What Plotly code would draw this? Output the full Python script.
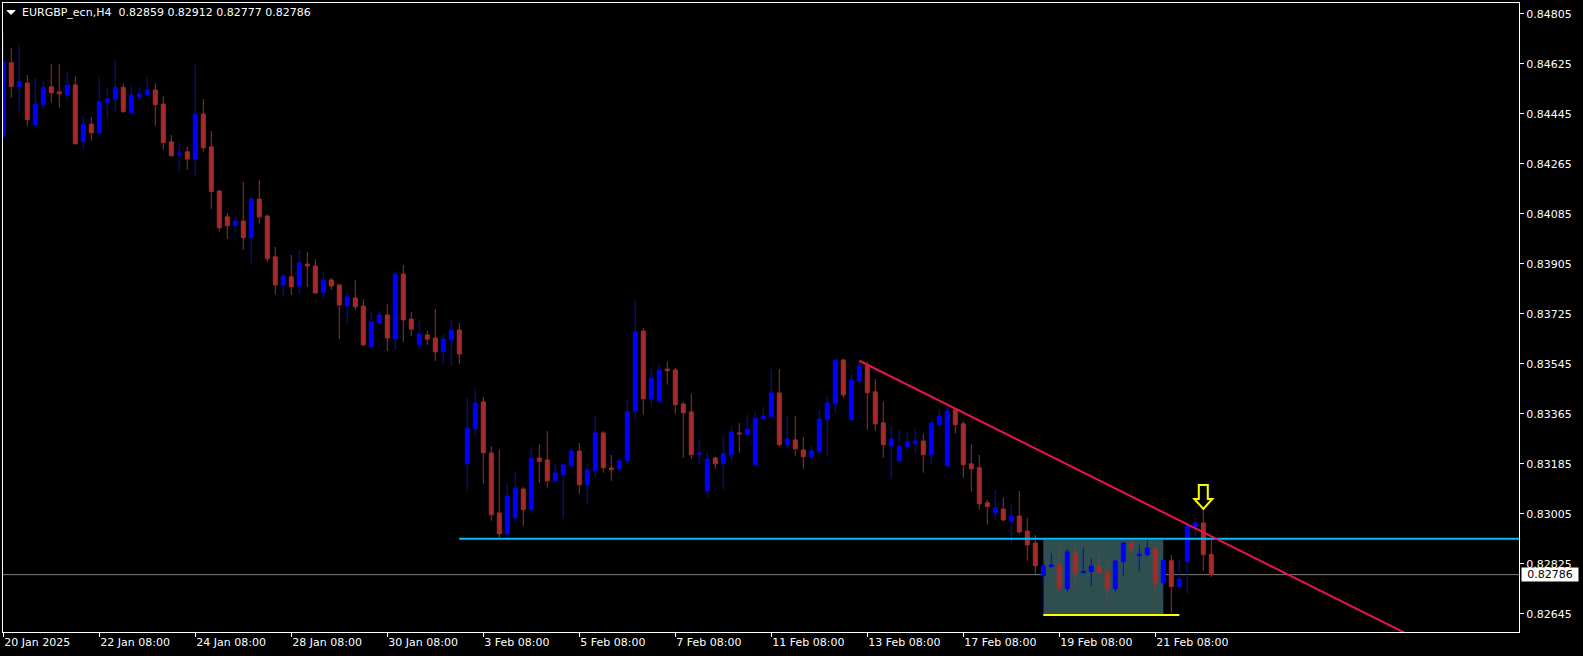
import plotly.graph_objects as go

# ---------------- data ----------------
symbol = "EURGBP_ecn,H4"
bars = list(range(152))

opens = [0.84365, 0.84629, 0.84543, 0.84556, 0.84406, 0.84478, 0.84542, 0.84524, 0.84513, 0.84549,
         0.84345, 0.84408, 0.84377, 0.84485, 0.84497, 0.84540, 0.84449, 0.84507, 0.84513, 0.84531,
         0.84480, 0.84344, 0.84298, 0.84308, 0.84282, 0.84444, 0.84326, 0.84167, 0.84074, 0.84042,
         0.84059, 0.83999, 0.84138, 0.84077, 0.83930, 0.83829, 0.83858, 0.83825, 0.83904, 0.83897,
         0.83803, 0.83847, 0.83829, 0.83753, 0.83782, 0.83753, 0.83606, 0.83692, 0.83721, 0.83634,
         0.83868, 0.83706, 0.83613, 0.83649, 0.83638, 0.83588, 0.83631, 0.83667, 0.83185, 0.83311,
         0.83408, 0.83224, 0.83008, 0.82933, 0.82991, 0.83094, 0.83020, 0.83206, 0.83199, 0.83124,
         0.83146, 0.83178, 0.83231, 0.83110, 0.83160, 0.83296, 0.83170, 0.83167, 0.83196, 0.83373,
         0.83663, 0.83419, 0.83409, 0.83526, 0.83523, 0.83400, 0.83372, 0.83218, 0.83088, 0.83206,
         0.83185, 0.83218, 0.83296, 0.83290, 0.83182, 0.83347, 0.83355, 0.83440, 0.83254, 0.83271,
         0.83235, 0.83211, 0.83229, 0.83344, 0.83401, 0.83559, 0.83344, 0.83483, 0.83537, 0.83444,
         0.83332, 0.83250, 0.83196, 0.83247, 0.83257, 0.83267, 0.83218, 0.83326, 0.83178, 0.83379,
         0.83329, 0.83185, 0.83171, 0.83045, 0.83009, 0.83022, 0.82979, 0.82997, 0.82943, 0.82900,
         0.82782, 0.82815, 0.82824, 0.82735, 0.82864, 0.82793, 0.82797, 0.82817, 0.82796, 0.82735,
         0.82833, 0.82900, 0.82854, 0.82858, 0.82882, 0.82757, 0.82836, 0.82743, 0.82833, 0.82959,
         0.82972, 0.82859]
highs = [0.84735, 0.84681, 0.84693, 0.84585, 0.84574, 0.84564, 0.84624, 0.84624, 0.84596, 0.84580,
         0.84440, 0.84434, 0.84578, 0.84540, 0.84639, 0.84553, 0.84548, 0.84542, 0.84578, 0.84555,
         0.84508, 0.84369, 0.84346, 0.84327, 0.84621, 0.84498, 0.84383, 0.84170, 0.84088, 0.84074,
         0.84200, 0.84149, 0.84207, 0.84082, 0.83966, 0.83868, 0.83937, 0.83955, 0.83948, 0.83922,
         0.83876, 0.83854, 0.83831, 0.83803, 0.83847, 0.83778, 0.83732, 0.83735, 0.83760, 0.83876,
         0.83901, 0.83732, 0.83699, 0.83663, 0.83742, 0.83652, 0.83706, 0.83692, 0.83423, 0.83454,
         0.83426, 0.83249, 0.83235, 0.83116, 0.83159, 0.83102, 0.83246, 0.83256, 0.83303, 0.83184,
         0.83188, 0.83242, 0.83260, 0.83184, 0.83357, 0.83303, 0.83217, 0.83206, 0.83418, 0.83778,
         0.83674, 0.83526, 0.83544, 0.83552, 0.83530, 0.83408, 0.83436, 0.83274, 0.83231, 0.83211,
         0.83286, 0.83322, 0.83332, 0.83362, 0.83375, 0.83390, 0.83526, 0.83526, 0.83357, 0.83357,
         0.83282, 0.83249, 0.83379, 0.83429, 0.83562, 0.83562, 0.83508, 0.83552, 0.83552, 0.83490,
         0.83408, 0.83321, 0.83307, 0.83296, 0.83310, 0.83292, 0.83336, 0.83382, 0.83386, 0.83386,
         0.83339, 0.83256, 0.83217, 0.83056, 0.83091, 0.83062, 0.83037, 0.83087, 0.82990, 0.82929,
         0.82842, 0.82864, 0.82889, 0.82878, 0.82893, 0.82882, 0.82846, 0.82868, 0.82824, 0.82839,
         0.82904, 0.82911, 0.82893, 0.82911, 0.82884, 0.82842, 0.82857, 0.82839, 0.82972, 0.82990,
         0.83019, 0.82912]
lows = [0.84360, 0.84503, 0.84455, 0.84402, 0.84395, 0.84465, 0.84485, 0.84467, 0.84497, 0.84335,
        0.84316, 0.84348, 0.84375, 0.84427, 0.84449, 0.84448, 0.84447, 0.84492, 0.84511, 0.84402,
        0.84316, 0.84292, 0.84237, 0.84244, 0.84219, 0.84309, 0.84102, 0.84021, 0.83994, 0.84016,
        0.83956, 0.83908, 0.84049, 0.83913, 0.83796, 0.83789, 0.83793, 0.83796, 0.83822, 0.83798,
        0.83778, 0.83811, 0.83634, 0.83688, 0.83739, 0.83610, 0.83604, 0.83688, 0.83591, 0.83595,
        0.83624, 0.83645, 0.83598, 0.83613, 0.83555, 0.83544, 0.83537, 0.83544, 0.83087, 0.83286,
        0.83113, 0.82980, 0.82919, 0.82919, 0.82973, 0.82962, 0.83005, 0.83117, 0.83099, 0.83120,
        0.82987, 0.83176, 0.83077, 0.83038, 0.83135, 0.83153, 0.83124, 0.83160, 0.83182, 0.83344,
        0.83362, 0.83391, 0.83407, 0.83470, 0.83365, 0.83207, 0.83203, 0.83182, 0.83063, 0.83167,
        0.83092, 0.83193, 0.83225, 0.83288, 0.83180, 0.83344, 0.83353, 0.83247, 0.83239, 0.83214,
        0.83167, 0.83203, 0.83218, 0.83214, 0.83365, 0.83423, 0.83342, 0.83473, 0.83308, 0.83304,
        0.83207, 0.83131, 0.83194, 0.83232, 0.83221, 0.83153, 0.83185, 0.83319, 0.83174, 0.83293,
        0.83135, 0.83085, 0.83020, 0.82966, 0.82980, 0.82980, 0.82896, 0.82933, 0.82836, 0.82789,
        0.82641, 0.82811, 0.82725, 0.82725, 0.82753, 0.82791, 0.82743, 0.82791, 0.82696, 0.82725,
        0.82782, 0.82865, 0.82797, 0.82851, 0.82717, 0.82710, 0.82649, 0.82741, 0.82717, 0.82923,
        0.82800, 0.82777]
closes = [0.84633, 0.84543, 0.84561, 0.84424, 0.84480, 0.84540, 0.84521, 0.84517, 0.84549, 0.84337,
          0.84408, 0.84377, 0.84488, 0.84498, 0.84540, 0.84453, 0.84512, 0.84516, 0.84531, 0.84478,
          0.84341, 0.84294, 0.84304, 0.84282, 0.84444, 0.84323, 0.84165, 0.84035, 0.84042, 0.84059,
          0.83999, 0.84138, 0.84074, 0.83923, 0.83829, 0.83861, 0.83822, 0.83908, 0.83897, 0.83800,
          0.83847, 0.83825, 0.83757, 0.83786, 0.83750, 0.83613, 0.83696, 0.83721, 0.83638, 0.83868,
          0.83703, 0.83670, 0.83652, 0.83634, 0.83588, 0.83634, 0.83667, 0.83580, 0.83314, 0.83404,
          0.83225, 0.83002, 0.82933, 0.83069, 0.83098, 0.83020, 0.83206, 0.83193, 0.83124, 0.83152,
          0.83181, 0.83231, 0.83110, 0.83163, 0.83296, 0.83171, 0.83164, 0.83195, 0.83372, 0.83660,
          0.83419, 0.83494, 0.83523, 0.83520, 0.83398, 0.83369, 0.83218, 0.83224, 0.83202, 0.83185,
          0.83221, 0.83300, 0.83293, 0.83310, 0.83350, 0.83357, 0.83440, 0.83254, 0.83274, 0.83239,
          0.83211, 0.83231, 0.83346, 0.83404, 0.83559, 0.83433, 0.83487, 0.83537, 0.83441, 0.83329,
          0.83254, 0.83274, 0.83246, 0.83264, 0.83267, 0.83218, 0.83332, 0.83357, 0.83375, 0.83326,
          0.83182, 0.83167, 0.83041, 0.83031, 0.83027, 0.82983, 0.82997, 0.82940, 0.82893, 0.82818,
          0.82817, 0.82821, 0.82735, 0.82868, 0.82793, 0.82797, 0.82817, 0.82793, 0.82735, 0.82835,
          0.82900, 0.82879, 0.82860, 0.82882, 0.82753, 0.82836, 0.82743, 0.82770, 0.82961, 0.82972,
          0.82858, 0.82786]

tick_bars = [0, 12, 24, 36, 48, 60, 72, 84, 96, 108, 120, 132, 144]
tick_labels = ["20 Jan 2025", "22 Jan 08:00", "24 Jan 08:00", "28 Jan 08:00", "30 Jan 08:00",
               "3 Feb 08:00", "5 Feb 08:00", "7 Feb 08:00", "11 Feb 08:00", "13 Feb 08:00",
               "17 Feb 08:00", "19 Feb 08:00", "21 Feb 08:00"]
price_ticks = [0.84805, 0.84625, 0.84445, 0.84265, 0.84085, 0.83905, 0.83725,
               0.83545, 0.83365, 0.83185, 0.83005, 0.82825, 0.82645]

# chart objects (anchor points)
trend_bars = [107, 151]
trend_prices = [0.83556, 0.82924]
support_bar = 57
support_price = 0.82915
box_bars = [130, 145]
box_prices = [0.82644, 0.82912]
low_line_bars = [130, 147]
low_line_price = 0.82641
signal_bar = 150

# ---------------- layout constants ----------------
X_RANGE = [-0.0375, 189.4625]
Y_RANGE = [0.825795, 0.848439]
FONT = "DejaVu Sans"
UP = "#0000FF"
DOWN = "#A52A2A"

fig = go.Figure()
fig.add_trace(go.Candlestick(
    x=bars, open=opens, high=highs, low=lows, close=closes,
    increasing=dict(line=dict(color=UP, width=1), fillcolor=UP),
    decreasing=dict(line=dict(color=DOWN, width=1), fillcolor=DOWN),
    whiskerwidth=0, hoverinfo="skip", showlegend=False,
))

# trend ray extension
slope = (trend_prices[1] - trend_prices[0]) / (trend_bars[1] - trend_bars[0])
ray_end_x = X_RANGE[1] + 20
ray_end_y = trend_prices[0] + slope * (ray_end_x - trend_bars[0])

shapes = [
    dict(type="rect", xref="x", yref="y", x0=box_bars[0], x1=box_bars[1],
         y0=box_prices[0], y1=box_prices[1], fillcolor="#2F4F4F",
         line=dict(width=0), layer="below"),
    dict(type="line", xref="paper", yref="y", x0=0, x1=1, y0=closes[-1], y1=closes[-1],
         line=dict(color="#808080", width=1), layer="below"),
    dict(type="line", xref="x", yref="y", x0=support_bar, x1=X_RANGE[1],
         y0=support_price, y1=support_price, line=dict(color="#00BFFF", width=2), layer="above"),
    dict(type="line", xref="x", yref="y", x0=trend_bars[0], y0=trend_prices[0],
         x1=ray_end_x, y1=ray_end_y, line=dict(color="#E8154A", width=2), layer="above"),
    dict(type="line", xref="x", yref="y", x0=low_line_bars[0], x1=low_line_bars[1],
         y0=low_line_price, y1=low_line_price, line=dict(color="#FFFF00", width=2), layer="above"),
    # hollow down arrow above signal bar
    dict(type="path", xref="x", yref="y", xsizemode="pixel", ysizemode="pixel",
         xanchor=signal_bar, yanchor=highs[signal_bar],
         path="M 0 1 L -9 11 L -4.5 11 L -4.5 25 L 4.5 25 L 4.5 11 L 9 11 Z",
         line=dict(color="#FFFF00", width=2), fillcolor="rgba(0,0,0,0)", layer="above"),
    # header triangle
    dict(type="path", xref="paper", yref="paper", xsizemode="pixel", ysizemode="pixel",
         xanchor=0, yanchor=1, path="M 4 -7.5 L 12 -7.5 L 8 -11.5 Z",
         line=dict(color="#FFFFFF", width=1), fillcolor="#FFFFFF", layer="above"),
]

header = (f"{symbol}\u00a0\u00a0{opens[-1]:.5f} {highs[-1]:.5f} "
          f"{lows[-1]:.5f} {closes[-1]:.5f}")

annotations = [
    dict(xref="paper", yref="paper", x=0, y=1, xanchor="left", yanchor="middle",
         xshift=18, yshift=-9.7, text=header, showarrow=False, borderpad=0,
         font=dict(family=FONT, size=11, color="#FFFFFF")),
    dict(xref="paper", yref="y", x=1, y=closes[-1], xanchor="left", yanchor="middle",
         xshift=2, text=f"{closes[-1]:.5f}", showarrow=False, bgcolor="#FFFFFF",
         borderpad=0, width=56, align="center",
         font=dict(family=FONT, size=11, color="#000000")),
]

fig.update_layout(
    width=1583, height=656,
    margin=dict(l=3, r=64, t=3, b=24),
    paper_bgcolor="#000000", plot_bgcolor="#000000",
    showlegend=False,
    boxgap=0.5, boxgroupgap=0,
    shapes=shapes, annotations=annotations,
    font=dict(family=FONT, size=11, color="#FFFFFF"),
    xaxis=dict(range=X_RANGE, rangeslider=dict(visible=False), showgrid=False, zeroline=False,
               tickmode="array", tickvals=tick_bars, ticktext=tick_labels,
               ticks="outside", ticklen=4, tickcolor="#FFFFFF", tickwidth=1,
               ticklabelposition="outside right",
               showline=True, linecolor="#FFFFFF", linewidth=1, mirror=True,
               tickfont=dict(family=FONT, size=11, color="#FFFFFF"), fixedrange=True),
    yaxis=dict(range=Y_RANGE, side="right", showgrid=False, zeroline=False,
               tickmode="array", tickvals=price_ticks,
               ticktext=[f"{v:.5f}" for v in price_ticks],
               ticks="outside", ticklen=4, tickcolor="#FFFFFF", tickwidth=1,
               showline=True, linecolor="#FFFFFF", linewidth=1, mirror=True,
               tickfont=dict(family=FONT, size=11, color="#FFFFFF"), fixedrange=True),
)

fig.write_html("out.html", config={"displayModeBar": False},
               post_script="document.body.style.margin='0';document.body.style.overflow='hidden';")
